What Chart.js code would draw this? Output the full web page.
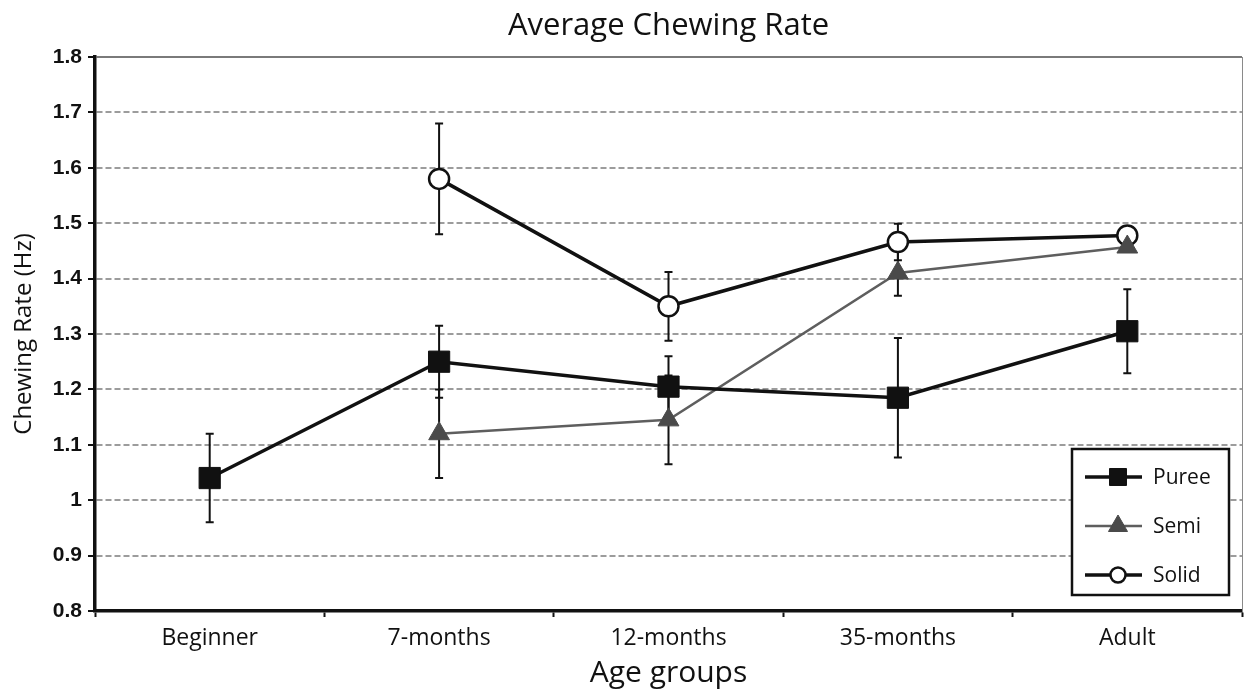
<!DOCTYPE html>
<html lang="en">
  <head>
    <meta charset="UTF-8" />
    <title>Average Chewing Rate</title>
    <style>
      body {
        margin: 0;
        background: #fff;
      }
      .wrap {
        width: 1258px;
        height: 693px;
      }
    </style>
  </head>
  <body>
    <div class="wrap">
      <canvas id="myChart"></canvas>
    </div>
    <script src="https://cdn.jsdelivr.net/npm/chart.js"></script>
    <script>
      // values
      const ageGroups = ["Beginner", "7-months", "12-months", "35-months", "Adult"];
      const puree = [1.04, 1.25, 1.205, 1.185, 1.305];
      const pureeErr = [0.08, 0.065, 0.055, 0.108, 0.076];
      const semi = [null, 1.12, 1.145, 1.41, 1.457];
      const semiErr = [null, 0.08, 0.08, 0.041, 0.005];
      const solid = [null, 1.58, 1.35, 1.466, 1.478];
      const solidErr = [null, 0.1, 0.062, 0.033, 0.005];
      const legendRadius = [12, 11, 7.5];

      Chart.defaults.font.family = "'Open Sans', sans-serif";
      Chart.defaults.color = "#111";

      // vertical error bars, drawn under the markers
      const errorBars = {
        id: "errorBars",
        beforeDatasetsDraw(chart) {
          const { ctx, scales: { x, y } } = chart;
          ctx.save();
          ctx.strokeStyle = "#111";
          ctx.lineWidth = 2;
          chart.data.datasets.forEach((ds) => {
            ds.data.forEach((v, j) => {
              const e = ds.errorBars[j];
              if (v == null || e == null) return;
              const px = x.getPixelForValue(j);
              const top = y.getPixelForValue(v + e);
              const bot = y.getPixelForValue(v - e);
              ctx.beginPath();
              ctx.moveTo(px, top);
              ctx.lineTo(px, bot);
              ctx.moveTo(px - 4, top);
              ctx.lineTo(px + 4, top);
              ctx.moveTo(px - 4, bot);
              ctx.lineTo(px + 4, bot);
              ctx.stroke();
            });
          });
          ctx.restore();
        },
      };

      // boxed legend in the lower right corner
      const legendBox = {
        id: "legendBox",
        afterDraw(chart) {
          const { ctx, chartArea } = chart;
          const w = 157;
          const h = 146;
          const x0 = chartArea.right - 13 - w;
          const y0 = chartArea.bottom - 16 - h;
          ctx.save();
          ctx.fillStyle = "#fff";
          ctx.fillRect(x0, y0, w, h);
          ctx.lineWidth = 2.5;
          ctx.strokeStyle = "#111";
          ctx.strokeRect(x0, y0, w, h);
          chart.data.datasets.forEach((ds, i) => {
            const ly = y0 + 28 + i * 49;
            ctx.strokeStyle = ds.borderColor;
            ctx.lineWidth = ds.borderWidth;
            ctx.beginPath();
            ctx.moveTo(x0 + 13, ly);
            ctx.lineTo(x0 + 70, ly);
            ctx.stroke();
            ctx.fillStyle = ds.pointBackgroundColor;
            ctx.strokeStyle = ds.pointBorderColor;
            ctx.lineWidth = ds.pointBorderWidth;
            Chart.helpers.drawPoint(
              ctx,
              { pointStyle: ds.pointStyle, radius: legendRadius[i], borderWidth: ds.pointBorderWidth, rotation: 0 },
              x0 + 46,
              ly
            );
            ctx.fillStyle = "#111";
            ctx.font = "21px 'Open Sans'";
            ctx.textBaseline = "middle";
            ctx.textAlign = "left";
            ctx.fillText(ds.label, x0 + 81, ly + 1);
          });
          ctx.restore();
        },
      };

      const ctx = document.getElementById("myChart");
      const myChart = new Chart(ctx, {
        type: "line",
        data: {
          labels: ageGroups,
          datasets: [
            {
              label: "Puree",
              data: puree,
              errorBars: pureeErr,
              borderColor: "#111",
              borderWidth: 3.5,
              pointStyle: "rect",
              pointRadius: 15,
              pointBackgroundColor: "#111",
              pointBorderColor: "#111",
              pointBorderWidth: 1,
              tension: 0,
            },
            {
              label: "Semi",
              data: semi,
              errorBars: semiErr,
              borderColor: "#5e5e5e",
              borderWidth: 2.5,
              pointStyle: "triangle",
              pointRadius: 12,
              pointBackgroundColor: "#4a4a4a",
              pointBorderColor: "#4a4a4a",
              pointBorderWidth: 1,
              tension: 0,
            },
            {
              label: "Solid",
              data: solid,
              errorBars: solidErr,
              borderColor: "#111",
              borderWidth: 3.5,
              pointStyle: "circle",
              pointRadius: 10,
              pointBackgroundColor: "#fff",
              pointBorderColor: "#111",
              pointBorderWidth: 2.5,
              tension: 0,
            },
          ],
        },
        options: {
          responsive: true,
          maintainAspectRatio: false,
          animation: false,
          events: [],
          layout: { padding: { top: 0, left: 0, right: 1, bottom: 0 } },
          plugins: {
            legend: { display: false },
            tooltip: { enabled: false },
            title: {
              display: true,
              text: "Average Chewing Rate",
              fullSize: false,
              color: "#111",
              font: { size: 31, weight: "normal" },
              padding: { top: 7.4, bottom: 12.4 },
            },
          },
          scales: {
            x: {
              type: "category",
              offset: true,
              afterFit(scale) {
                scale.height = 82;
              },
              grid: {
                offset: true,
                drawOnChartArea: false,
                drawTicks: true,
                tickLength: 6,
                tickWidth: 2,
                tickColor: "#111",
                color: "#111",
              },
              border: { color: "#111", width: 3.5 },
              ticks: {
                font: { size: 23 },
                color: "#111",
                padding: 8,
                maxRotation: 0,
                autoSkip: false,
              },
              title: {
                display: true,
                text: "Age groups",
                color: "#111",
                font: { size: 30 },
                padding: { top: 0, bottom: 2 },
              },
            },
            y: {
              min: 0.8,
              max: 1.8,
              afterFit(scale) {
                scale.width = 95;
              },
              grid: {
                color: (c) => (c.tick && c.tick.value > 1.79 ? "#7a7a7a" : "#9c9c9c"),
                lineWidth: 2,
                tickLength: 7,
                tickWidth: 2,
                tickColor: "#111",
              },
              border: {
                color: "#111",
                width: 3.5,
                dash: (c) => (c.tick && c.tick.value > 1.79 ? [] : [6, 3]),
              },
              ticks: {
                stepSize: 0.1,
                padding: 6,
                color: "#111",
                font: { family: "'Liberation Sans', Arial, sans-serif", size: 21, weight: "bold" },
                callback: (v) => String(+v.toFixed(1)),
              },
              title: {
                display: true,
                text: "Chewing Rate (Hz)",
                color: "#111",
                font: { size: 24 },
                padding: { top: 10, bottom: 0 },
              },
            },
            y1: {
              position: "right",
              min: 0.8,
              max: 1.8,
              afterFit(scale) {
                scale.width = 0;
              },
              grid: { drawOnChartArea: false, drawTicks: false },
              border: { color: "#8a8a8a", width: 1 },
              ticks: { display: false },
            },
          },
        },
        plugins: [errorBars, legendBox],
      });
    </script>
  </body>
</html>
